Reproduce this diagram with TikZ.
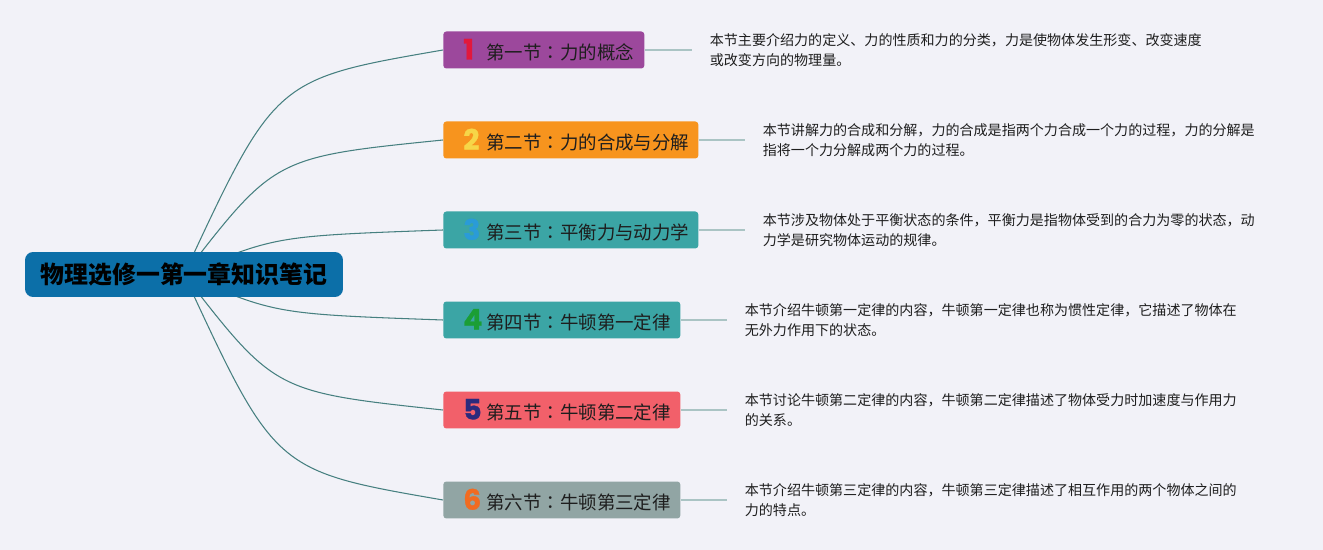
\documentclass[tikz,border=0pt]{standalone}
\usepackage{fontspec}
\setmainfont{Noto Sans CJK SC}
\newfontfamily\numfont{Poppins}[FakeBold=1.2]
\newfontfamily\tcfont{Noto Sans CJK TC}
\usetikzlibrary{backgrounds}
\definecolor{bg}{RGB}{242,242,248}
\definecolor{rootblue}{RGB}{12,111,168}
\definecolor{branchc}{RGB}{70,128,128}
\definecolor{tailc}{RGB}{170,196,196}
\definecolor{txt}{RGB}{30,30,30}
\definecolor{f1}{RGB}{156,72,156}
\definecolor{f2}{RGB}{247,148,30}
\definecolor{f3}{RGB}{59,165,165}
\definecolor{f5}{RGB}{242,96,106}
\definecolor{f6}{RGB}{145,165,164}
\definecolor{n1}{RGB}{226,24,60}
\definecolor{n2}{RGB}{246,214,72}
\definecolor{n3}{RGB}{42,155,216}
\definecolor{n4}{RGB}{27,158,53}
\definecolor{n5}{RGB}{43,42,125}
\definecolor{n6}{RGB}{242,107,33}
\newcommand{\secnum}[2]{\makebox[0.46cm][l]{\numfont\bfseries\fontsize{16}{16}\selectfont\textcolor{#1}{#2}}}
\newcommand{\seccolon}{{\tcfont ：}}
\tikzset{
  root/.style={fill=rootblue, rounded corners=0.16cm, minimum width=6.36cm, minimum height=0.9cm,
    font=\fontsize{13.6}{16}\selectfont\bfseries, text=black},
  sec/.style={fill=#1, rounded corners=0.06cm, minimum height=0.74cm, inner xsep=0.4cm, inner ysep=0pt,
    anchor=west, align=left, font=\fontsize{10.5}{12}\selectfont, text=txt},
  desc/.style={anchor=west, inner xsep=0.35cm, align=left, font=\fontsize{8}{11.4}\selectfont, text=txt},
  branch/.style={draw=branchc, line width=0.6pt},
  tail/.style={draw=tailc, line width=1.1pt},
}

\begin{document}
\begin{tikzpicture}[x=0.02cm, y=-0.02cm]
    % root and sections
    \node[root] (root) at (184,274.5) {物理选修一第一章知识笔记};
    \node[sec=f1, text width=3.22cm] (s1) at (443,50) {\secnum{n1}{1}第一节\seccolon 力的概念};
    \node[sec=f2, text width=4.3cm] (s2) at (443,140) {\secnum{n2}{2}第二节\seccolon 力的合成与分解};
    \node[sec=f3, text width=4.3cm] (s3) at (443,230) {\secnum{n3}{3}第三节\seccolon 平衡力与动力学};
    \node[sec=f3, text width=3.94cm] (s4) at (443,320) {\secnum{n4}{4}第四节\seccolon 牛顿第一定律};
    \node[sec=f5, text width=3.94cm] (s5) at (443,410) {\secnum{n5}{5}第五节\seccolon 牛顿第二定律};
    \node[sec=f6, text width=3.94cm] (s6) at (443,500) {\secnum{n6}{6}第六节\seccolon 牛顿第三定律};
    % notes
    \node[desc] (d1) at (692,50) {本节主要介绍力的定义、力的性质和力的分类，力是使物体发生形变、改变速度\\或改变方向的物理量。};
    \node[desc] (d2) at (745,140) {本节讲解力的合成和分解，力的合成是指两个力合成一个力的过程，力的分解是\\指将一个力分解成两个力的过程。};
    \node[desc] (d3) at (745,230) {本节涉及物体处于平衡状态的条件，平衡力是指物体受到的合力为零的状态，动\\力学是研究物体运动的规律。};
    \node[desc] (d4) at (727,320) {本节介绍牛顿第一定律的内容，牛顿第一定律也称为惯性定律，它描述了物体在\\无外力作用下的状态。};
    \node[desc] (d5) at (727,410) {本节讨论牛顿第二定律的内容，牛顿第二定律描述了物体受力时加速度与作用力\\的关系。};
    \node[desc] (d6) at (727,500) {本节介绍牛顿第三定律的内容，牛顿第三定律描述了相互作用的两个物体之间的\\力的特点。};
    \draw[tail] (s1.east) -- (d1.west);
    \draw[tail] (s2.east) -- (d2.west);
    \draw[tail] (s3.east) -- (d3.west);
    \draw[tail] (s4.east) -- (d4.west);
    \draw[tail] (s5.east) -- (d5.west);
    \draw[tail] (s6.east) -- (d6.west);
    \begin{scope}[on background layer]
      \fill[bg] (0,0) rectangle (1323,550);
      \draw[branch] (root.center) .. controls (275,79) .. (s1.west);
      \draw[branch] (root.center) .. controls (275,157) .. (s2.west);
      \draw[branch] (root.center) .. controls (275,236) .. (s3.west);
      \draw[branch] (root.center) .. controls (275,314) .. (s4.west);
      \draw[branch] (root.center) .. controls (275,392) .. (s5.west);
      \draw[branch] (root.center) .. controls (275,471) .. (s6.west);
    \end{scope}
\end{tikzpicture}
\end{document}
